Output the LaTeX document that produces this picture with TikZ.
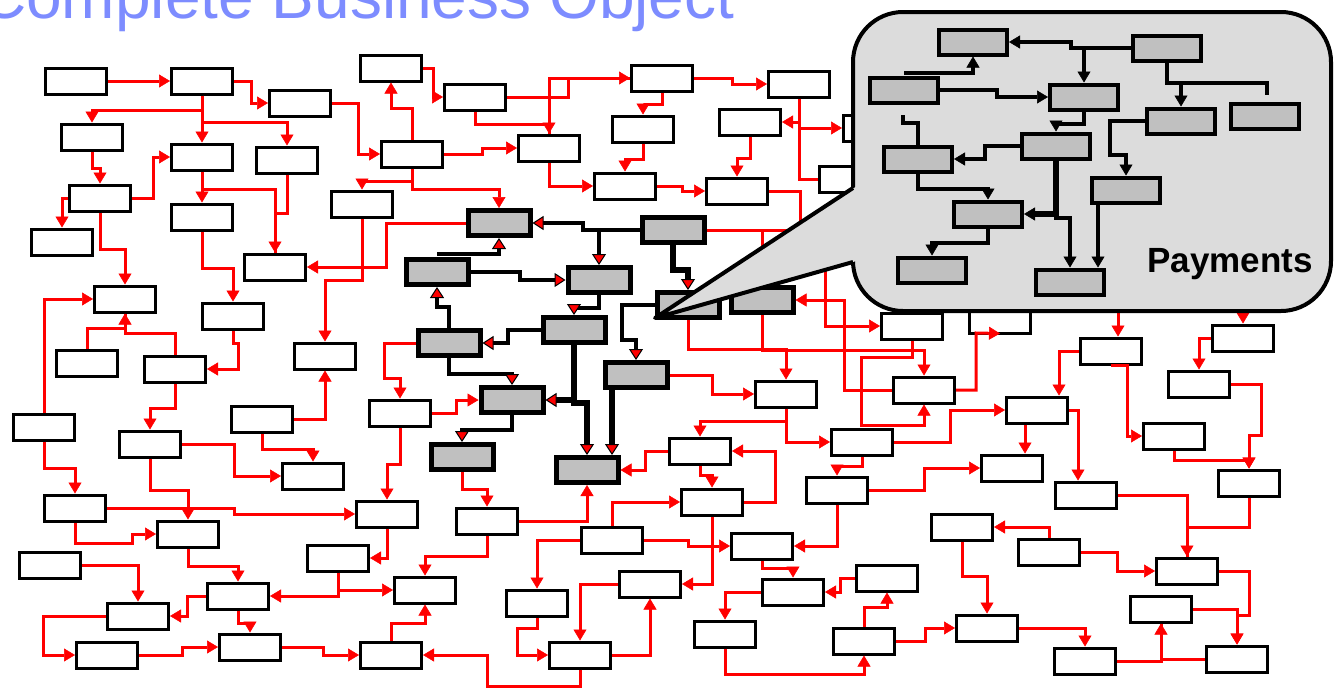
\documentclass[tikz,border=0pt]{standalone}
\usepackage{fontspec}
\setmainfont{Liberation Sans}
\usetikzlibrary{arrows.meta}
\definecolor{titleblue}{RGB}{125,140,255}
\definecolor{boxgray}{RGB}{192,192,192}
\definecolor{bubble}{RGB}{220,220,220}
\tikzset{
  box/.style={draw, line width=3pt, fill=white, minimum width=61pt, minimum height=26pt, inner sep=0pt},
  gbox/.style={draw, line width=5pt, fill=boxgray, minimum width=62pt, minimum height=25pt, inner sep=0pt},
  pbox/.style={draw, line width=4pt, fill=boxgray, minimum width=68pt, minimum height=25pt, inner sep=0pt},
  lnk/.style={red, line width=3pt},
  arr/.style={lnk, -{Triangle[length=11pt,width=13pt,line width=0.5pt]}},
  blnk/.style={black, line width=4pt},
  barr/.style={blnk, -{Triangle[length=11pt,width=14pt,fill=red,line width=1pt]}},
  bfat/.style={barr, line width=6pt},
  plnk/.style={black, line width=4pt},
  parr/.style={plnk, -{Triangle[length=11pt,width=13pt,line width=0.5pt]}},
}
\begin{document}
\begin{tikzpicture}[x=1pt, y=-1pt]
        \useasboundingbox (0,0) rectangle (1334,688);
        \clip (0,0) rectangle (1334,688);

        % Title
        \node[anchor=base west, inner sep=0pt, text=titleblue, font=\fontsize{64}{70}\selectfont] (title) at (-20,18) {Complete Business Object};

        % White boxes
        \node[box] (b1) at (76,81) {};
        \node[box] (b2) at (202,81) {};
        \node[box] (b3) at (300,103) {};
        \node[box] (b4) at (391,68) {};
        \node[box] (b5) at (92,137) {};
        \node[box] (b6) at (202,157) {};
        \node[box] (b7) at (287,160) {};
        \node[box] (b8) at (412,154) {};
        \node[box] (b9) at (475,97) {};
        \node[box] (b10) at (662,78) {};
        \node[box] (b11) at (799,84) {};
        \node[box] (b12) at (643,129) {};
        \node[box] (b13) at (549,148) {};
        \node[box] (b14) at (750,122) {};
        \node[box] (b15) at (625,186) {};
        \node[box] (b16) at (737,191) {};
        \node[box] (b17) at (100,198) {};
        \node[box] (b18) at (202,217) {};
        \node[box] (b19) at (362,204) {};
        \node[box] (b20) at (62,242) {};
        \node[box] (b21) at (874,128) {};
        \node[box] (b22) at (125,299) {};
        \node[box] (b23) at (275,267) {};
        \node[box] (b24) at (233,316) {};
        \node[box] (b25) at (87,363) {};
        \node[box] (b26) at (175,369) {};
        \node[box] (b27) at (325,356) {};
        \node[box] (b28) at (44,427) {};
        \node[box] (b29) at (150,444) {};
        \node[box] (b30) at (262,419) {};
        \node[box] (b31) at (400,413) {};
        \node[box] (b32) at (313,476) {};
        \node[box] (b33) at (75,508) {};
        \node[box] (b34) at (188,534) {};
        \node[box] (b35) at (387,514) {};
        \node[box] (b36) at (50,565) {};
        \node[box] (b37) at (338,558) {};
        \node[box] (b38) at (238,596) {};
        \node[box] (b39) at (138,616) {};
        \node[box] (b40) at (425,590) {};
        \node[box] (b41) at (107,655) {};
        \node[box] (b42) at (250,647) {};
        \node[box] (b43) at (391,655) {};
        \node[box] (b44) at (487,521) {};
        \node[box] (b45) at (612,540) {};
        \node[box] (b46) at (712,502) {};
        \node[box] (b47) at (700,451) {};
        \node[box] (b48) at (537,603) {};
        \node[box] (b49) at (650,584) {};
        \node[box] (b50) at (580,655) {};
        \node[box] (b51) at (762,546) {};
        \node[box] (b52) at (793,592) {};
        \node[box] (b53) at (725,634) {};
        \node[box] (b54) at (887,578) {};
        \node[box] (b55) at (864,641) {};
        \node[box] (b56) at (786,394) {};
        \node[box] (b57) at (912,326) {};
        \node[box] (b58) at (1000,320) {};
        \node[box] (b59) at (924,390) {};
        \node[box] (b60) at (1111,351) {};
        \node[box] (b61) at (1243,338) {};
        \node[box] (b62) at (1199,384) {};
        \node[box] (b63) at (1037,410) {};
        \node[box] (b64) at (1174,436) {};
        \node[box] (b65) at (862,442) {};
        \node[box] (b66) at (1012,468) {};
        \node[box] (b67) at (1249,483) {};
        \node[box] (b68) at (837,490) {};
        \node[box] (b69) at (1086,495) {};
        \node[box] (b70) at (962,527) {};
        \node[box] (b71) at (1049,552) {};
        \node[box] (b72) at (1187,571) {};
        \node[box] (b73) at (1161,609) {};
        \node[box] (b74) at (987,628) {};
        \node[box] (b75) at (1085,661) {};
        \node[box] (b76) at (1237,659) {};
        \node[box] (b77) at (850,179) {};

        % Gray boxes of the cluster
        \node[gbox] (g1) at (499,223) {};
        \node[gbox] (g2) at (673,230) {};
        \node[gbox] (g3) at (437,272) {};
        \node[gbox] (g4) at (599,280) {};
        \node[gbox] (g5) at (688,305) {};
        \node[gbox] (g6) at (762,300) {};
        \node[gbox] (g7) at (574,330) {};
        \node[gbox] (g8) at (449,343) {};
        \node[gbox] (g9) at (636,375) {};
        \node[gbox] (g10) at (512,400) {};
        \node[gbox] (g11) at (462,457) {};
        \node[gbox] (g12) at (587,470) {};

        % Ends hidden under the bubble
        \coordinate (h1) at (1118,290);
        \coordinate (h2) at (1243,290);
        \coordinate (h3) at (825,250);

        % Red links, top left
        \draw[arr] (b1.east) -- (b2.west);
        \draw[arr] (b2.east) -- ++(17,0) |- (b3.west);
        \draw[arr] (b2.south) -- (b6.north);
        \draw[arr] (b2.south) -- ++(0,15) -| (b5.north);
        \draw[arr] (b2.south) -- ++(0,27) -| (b7.north);
        \draw[arr] (b3.east) -- ++(26,0) |- (b8.west);
        \draw[arr] (b4.east) -- ++(10,0) |- (b9.west);
        \draw[arr] (b8.north) -- ++(0,-31) -| (b4.south);
        \draw[arr] (b8.south) -- ++(0,13) -| (b19.north);
        \draw[arr] (b8.south) -- ++(0,21) -| (g1.north);
        \draw[arr] (b6.south) -- (b18.north);
        \draw[arr] (b6.south) -- ++(0,18) -| (b23.north);
        \draw[lnk] (b7.south) -- ++(0,39) -| (b23.north);
        \draw[arr] (b5.south) -- ++(0,17) -| (b17.north);
        \draw[arr] (b17.east) -- ++(21,0) |- (b6.west);
        \draw[arr] (b17.west) -| (b20.north);
        \draw[arr] (b17.south) -- ++(0,37) -| (b22.north);
        \draw[arr] (b18.south) -- ++(0,37) -| (b24.north);
        \draw[arr] (g1.west) -- ++(-79,0) |- (b23.east);
        \draw[arr] (b19.south) -- ++(0,62) -| (b27.north);
        \draw[arr] (b25.north) -- ++(0,-20) -| (b22.south);
        \draw[lnk] (b26.north) -- ++(0,-21) -| (b22.south);
        \draw[arr] (b28.north) |- (b22.west);
        \draw[arr] (b24.south) -- ++(0,13) -- ++(5,0) |- (b26.east);
        \draw[arr] (b26.south) -- ++(0,25) -| (b29.north);
        \draw[arr] (b30.east) -| (b27.south);
        \draw[arr] (b30.south) -- ++(0,16) -| (b32.north);
        \draw[arr] (b29.east) -- ++(52,0) |- (b32.west);
        \draw[arr] (b29.south) -- ++(0,32) -| (b34.north);
        \draw[arr] (b28.south) -- ++(0,27) -| (b33.north);
        \draw[arr] (g8.west) -| ++(-31,35) -| (b31.north);
        \draw[arr] (b31.east) -- ++(24,0) |- (g10.west);
        \draw[arr] (b31.south) -- ++(0,37) -| (b35.north);

        % Red links, bottom left
        \draw[arr] (b33.east) -- ++(127,0) |- (b35.west);
        \draw[arr] (b33.south) |- ++(57,21) |- (b34.west);
        \draw[arr] (b34.south) -- ++(0,18) -| (b38.north);
        \draw[arr] (b36.east) -| (b39.north);
        \draw[arr] (b35.south) |- (b37.east);
        \draw[arr] (b37.south) |- (b38.east);
        \draw[arr] (b37.south) |- (b40.west);
        \draw[arr] (b38.west) -- ++(-19,0) |- (b39.east);
        \draw[arr] (b38.south) -- ++(0,13) -| (b42.north);
        \draw[arr] (b39.west) -- ++(-63,0) |- (b41.west);
        \draw[arr] (b41.east) -- ++(43,0) |- (b42.west);
        \draw[arr] (b42.east) -- ++(41,0) |- (b43.west);
        \draw[arr] (b43.north) -- ++(0,-17) -| (b40.south);
        \draw[arr] (b44.south) -- ++(0,21) -| (b40.north);
        \draw[arr] (b50.south) |- ++(-93,17) |- (b43.east);

        % Red links, bottom middle
        \draw[arr] (b44.east) -| (g12.south);
        \draw[arr] (g11.south) -- ++(0,17) -| (b44.north);
        \draw[arr] (b45.north) |- (b46.west);
        \draw[arr] (b45.west) -| (b48.north);
        \draw[arr] (b45.east) -- ++(44,0) |- (b51.west);
        \draw[arr] (b48.south) |- ++(-20,11) |- (b50.west);
        \draw[arr] (b50.east) -| (b49.south);
        \draw[arr] (b49.west) -| (b50.north);
        \draw[arr] (b46.south) |- (b49.east);
        \draw[arr] (b46.east) -- ++(31,0) |- (b47.east);
        \draw[arr] (b47.south) -- ++(0,10) -| (b46.north);
        \draw[arr] (b47.west) -- ++(-23,0) |- (g12.east);
        \draw[arr] (b68.south) |- (b51.east);
        \draw[arr] (b51.south) -- ++(0,8) -| (b52.north);
        \draw[arr] (b52.west) -| (b53.north);
        \draw[arr] (b54.west) -- ++(-15,0) |- (b52.east);
        \draw[arr] (b53.south) -- ++(0,26) -| (b55.south);
        \draw[arr] (b55.north) -- ++(0,-19) -| (b54.south);

        % Red links, bottom right
        \draw[arr] (b55.east) -- ++(29,0) |- (b74.west);
        \draw[arr] (b74.east) -| (b75.north);
        \draw[arr] (b75.east) -| (b73.south);
        \draw[lnk] (b76.west) -| (b73.south);
        \draw[arr] (b70.south) -- ++(0,35) -| (b74.north);
        \draw[arr] (b71.north) |- (b70.east);
        \draw[arr] (b71.east) -- ++(36,0) |- (b72.west);
        \draw[arr] (b69.east) -| (b72.north);
        \draw[lnk] (b67.south) -- ++(0,30) -| (b72.north);
        \draw[arr] (b72.east) -| ++(30,44) -| (b76.north);
        \draw[arr] (b73.east) -| (b76.north);

        % Red links, right
        \draw[arr] (g9.east) -- ++(43,0) |- (b56.west);
        \draw[arr] (b56.south) -- ++(0,13) -| (b47.north);
        \draw[arr] (b56.south) |- (b65.west);
        \draw[arr] (g5.south) -- ++(0,29) -| (b56.north);
        \draw[arr] (g6.south) -- ++(0,35) -| (b59.north);
        \draw[arr] (b59.west) -- ++(-48,0) |- (g6.east);
        \draw[arr] (b59.east) -| ++(20,-57) -- ([yshift=1pt]b58.south);
        \draw[arr] (b57.south) -- ++(0,17) -- ++(-51,0) -- ++(0,68) -| (b59.south);
        \draw[arr] (h3) |- (b57.west);
        \draw[arr] (b65.east) -- ++(56,0) |- (b63.west);
        \draw[arr] (b65.south) -- ++(0,10) -| (b68.north);
        \draw[arr] (b68.east) -- ++(55,0) |- (b66.west);
        \draw[arr] ([xshift=-12pt]b63.south) -- ([xshift=13pt]b66.north);
        \draw[arr] (b63.east) -| ([xshift=-8pt]b69.north);
        \draw[arr] (h1) -- ([xshift=7pt]b60.north);
        \draw[arr] (b60.south) -- ++(16,0) |- (b64.west);
        \draw[arr] (b60.west) -| ([xshift=-10pt]b63.north east);
        \draw[arr] (h2) -- (b61.north);
        \draw[arr] (b61.west) -| (b62.north);
        \draw[arr] (b62.east) -| ++(30,51) -| (b67.north);
        \draw[arr] (b64.south) -- ++(0,10) -| (b67.north);

        % Red links, top middle
        \draw[arr] (b9.east) -- ++(61,0) |- (b10.west);
        \draw[lnk] (b10.west) -| (b13.north);
        \draw[arr] (b9.south) -- ++(0,13) -| (b13.north);
        \draw[arr] (b10.east) -- ++(38,0) |- (b11.west);
        \draw[arr] (b10.south) -- ++(0,12) -| (b12.north);
        \draw[arr] (b12.south) -- ++(0,16) -| (b15.north);
        \draw[arr] (b13.south) |- (b15.west);
        \draw[arr] (b8.east) -- ++(38,0) |- (b13.west);
        \draw[arr] (b15.east) -- ++(25,0) |- (b16.west);
        \draw[arr] (b14.south) -- ++(0,22) -| (b16.north);
        \draw[arr] (b11.south) |- (b14.east);
        \draw[arr] (b11.south) |- (b21.west);
        \draw[lnk] (b11.south) |- (b77.west);
        \draw[lnk] (b16.east) -- ++(31,0) |- (g2.east);
        \draw[lnk] (g2.east) -| (g6.north);

        % Black links of the cluster
        \draw[barr] (g2.west) -- ++(-57,0) |- (g1.east);
        \draw[barr] (g2.west) -| (g4.north);
        \draw[bfat] (g2.south) -- ++(0,25) -| (g5.north);
        \draw[barr] ([yshift=3pt]g3.north) -| (g1.south);
        \draw[barr] (g3.east) -- ++(49,0) |- (g4.west);
        \draw[barr] (g4.south) -- ++(0,13) -| (g7.north);
        \draw[barr] (g7.west) -- ++(-33,0) |- (g8.east);
        \draw[barr] (g8.north) -- ++(0,-21) -| (g3.south);
        \draw[barr] (g8.south) -- ++(0,16) -| (g10.north);
        \draw[bfat] (g7.south) |- (g10.east);
        \draw[bfat] (g7.south) -- ++(0,58) -| (g12.north);
        \draw[barr] (g5.west) -| ++(-33,35) -| (g9.north);
        \draw[bfat] ([xshift=-24pt]g9.south) -- ([xshift=25pt]g12.north);
        \draw[barr] (g10.south) -- ++(0,15) -| (g11.north);

        % Bubble with its tail
        \filldraw[fill=bubble, draw=black, line width=4pt, rounded corners=50pt]
            (853,12) rectangle (1331,311);
        \fill[bubble] (655,318) -- (860,184) -- (860,260) -- cycle;
        \draw[line width=4pt, line join=round] (853,188) -- (655,318) -- (853,262);

        % Payments boxes
        \node[pbox] (p1) at (973,42) {};
        \node[pbox] (p2) at (1167,48) {};
        \node[pbox] (p3) at (904,90) {};
        \node[pbox] (p4) at (1084,97) {};
        \node[pbox] (p5) at (1181,121) {};
        \node[pbox] (p6) at (1265,116) {};
        \node[pbox] (p7) at (1056,146) {};
        \node[pbox] (p8) at (918,159) {};
        \node[pbox] (p9) at (1126,190) {};
        \node[pbox] (p10) at (988,214) {};
        \node[pbox] (p11) at (932,270) {};
        \node[pbox] (p12) at (1070,282) {};
        \coordinate (s1) at (903,115);

        \draw[parr] (p2.west) -- ++(-60,0) |- (p1.east);
        \draw[parr] (p2.west) -| (p4.north);
        \draw[parr] (p2.south) -- ++(0,20) -| (p5.north);
        \draw[plnk] (p2.south) -- ++(0,20) -| ++(100,12);
        \draw[parr] ([yshift=3pt]p3.north) -| (p1.south);
        \draw[parr] (p3.east) -- ++(57,0) |- (p4.west);
        \draw[parr] (p4.south) -- ++(0,12) -| (p7.north);
        \draw[parr] (p7.west) -- ++(-35,0) |- (p8.east);
        \draw[plnk] (s1) -- ++(0,8) -| (p8.north);
        \draw[parr] (p8.south) -- ++(0,15) -| (p10.north);
        \draw[parr, line width=6pt] (p7.south) |- (p10.east);
        \draw[parr] (p7.south) -- ++(0,57) -| (p12.north);
        \draw[parr] (p5.west) -| ++(-35,34) -| (p9.north);
        \draw[parr] ([xshift=-28pt]p9.south) -- ([xshift=28pt]p12.north);
        \draw[parr] (p10.south) -- ++(0,14) -| (p11.north);

        \node[anchor=base west, inner sep=0pt, font=\fontsize{35}{40}\selectfont\bfseries] (pay) at (1147,272) {Payments};
    \end{tikzpicture}
\end{document}
